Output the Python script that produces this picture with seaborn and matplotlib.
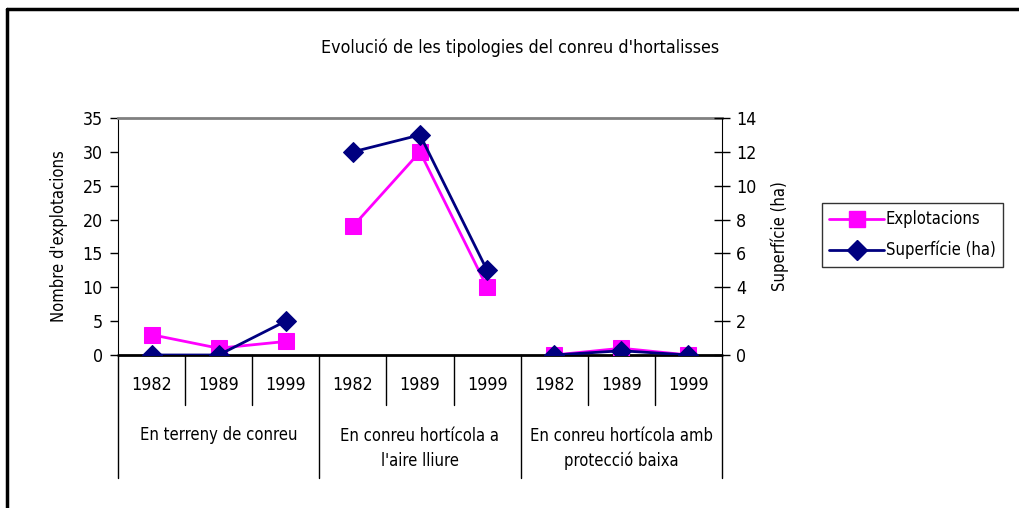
import pandas as pd
import matplotlib
matplotlib.use("Agg")
import matplotlib.pyplot as plt
import matplotlib.font_manager as fm
from matplotlib.lines import Line2D
import seaborn as sns

# --- data ---
groups = ["En terreny de conreu",
          "En conreu hortícola a\nl'aire lliure",
          "En conreu hortícola amb\nprotecció baixa"]
years = ["1982", "1989", "1999"]
explotacions = [3, 1, 2, 19, 30, 10, 0, 1, 0]
superficie = [0, 0, 2, 12, 13, 5, 0, 0.25, 0]

magenta = "#FF00FF"
navy = "#000080"

sns.set_style("white")

# the original uses a narrow Arial; take a condensed face if one is installed
fnames = {f.fname.split("/")[-1].lower(): f for f in fm.fontManager.ttflist}
pick = None
for key in ["liberationsansnarrow-regular.ttf", "dejavusanscondensed.ttf",
            "robotocondensed-regular.ttf", "opensans_condensed-regular.ttf"]:
    if key in fnames:
        pick = fnames[key]
        break
if pick is not None:
    plt.rcParams["font.family"] = [pick.name, "DejaVu Sans"]
    plt.rcParams["font.stretch"] = pick.stretch
    scale = 0.85
else:
    plt.rcParams["font.family"] = ["Liberation Sans", "DejaVu Sans"]
    scale = 0.85
plt.rcParams["text.color"] = "black"
plt.rcParams["axes.labelcolor"] = "black"
plt.rcParams["ytick.color"] = "black"

fs = 14 * scale
fs_tick = 15 * scale

# long table: one row per (group, year)
df = pd.DataFrame({
    "pos": range(len(groups) * len(years)),
    "group": [g for g in groups for _ in years],
    "year": years * len(groups),
    "Explotacions": explotacions,
    "Superficie": superficie,
})

fig = plt.figure(figsize=(10.19, 5.08), dpi=100)
ax = fig.add_axes([118 / 1019, 1 - 355 / 508, (722 - 118) / 1019, (355 - 118) / 508])
ax2 = ax.twinx()

sns.lineplot(data=df, x="pos", y="Explotacions", units="group", estimator=None,
             color=magenta, lw=2, marker="s", ms=12, mec=magenta, ax=ax, zorder=3)
sns.lineplot(data=df, x="pos", y="Superficie", units="group", estimator=None,
             color=navy, lw=2, marker="D", ms=10, mec=navy, ax=ax2, zorder=4)

ax.set_xlim(-0.5, len(df) - 0.5)
ax.set_ylim(0, 35)
ax2.set_ylim(0, 14)
ax.set_yticks(range(0, 36, 5))
ax2.set_yticks(range(0, 15, 2))
ax.set_xticks([])
ax.set_xlabel("")
ax2.set_xlabel("")

ax.set_ylabel("Nombre d'explotacions", fontsize=fs, labelpad=10)
ax2.set_ylabel("Superfície (ha)", fontsize=fs, labelpad=10)

ax.tick_params(axis="y", direction="out", length=6, width=1, left=True, labelsize=fs_tick, pad=5)
ax2.tick_params(axis="y", direction="inout", length=12, width=1, right=True, labelsize=fs_tick, pad=4)

for a in (ax, ax2):
    for s in a.spines.values():
        s.set_visible(False)
ax.spines["left"].set_visible(True)
ax.spines["left"].set_color("black")
ax.spines["top"].set_visible(True)
ax.spines["top"].set_color("#808080")
ax.spines["top"].set_linewidth(2)
ax2.spines["right"].set_visible(True)
ax2.spines["right"].set_color("black")

# zero line
ax.axhline(0, color="black", lw=2, zorder=2, clip_on=False)

# category axis: year labels, group labels and separators
trans = ax.get_xaxis_transform()
for p, y in zip(df["pos"], df["year"]):
    ax.text(p, -0.127, y, ha="center", va="center", fontsize=fs_tick, transform=trans)
for i, g in enumerate(groups):
    yy = -0.338 if "\n" not in g else -0.395
    ax.text(i * 3 + 1, yy, g, ha="center", va="center", fontsize=fs,
            linespacing=1.5, transform=trans)
for i in range(len(df) + 1):
    x = i - 0.5
    bottom = -0.519 if i % 3 == 0 else -0.211
    ax.plot([x, x], [0, bottom], color="black", lw=1, transform=trans, clip_on=False)

handles = [
    Line2D([], [], color=magenta, lw=2, marker="s", ms=12, mec=magenta),
    Line2D([], [], color=navy, lw=2, marker="D", ms=10, mec=navy),
]
leg = fig.legend(handles, ["Explotacions", "Superfície (ha)"], loc="upper left",
                 bbox_to_anchor=(822 / 1019, 1 - 203 / 508), frameon=True, fancybox=False,
                 edgecolor="black", fontsize=fs, handlelength=3.3, handletextpad=0.1,
                 borderpad=0.45, labelspacing=0.75, borderaxespad=0)
leg.get_frame().set_linewidth(1)

fig.text(520 / 1019, 1 - 48 / 508, "Evolució de les tipologies del conreu d'hortalisses",
         ha="center", va="center", fontsize=15 * scale)

# outer frame (left and top edges)
fig.add_artist(Line2D([7 / 1019, 7 / 1019], [0, 1 - 9 / 508], color="black", lw=2.5,
                      transform=fig.transFigure))
fig.add_artist(Line2D([7 / 1019, 1], [1 - 9 / 508, 1 - 9 / 508], color="black", lw=2.5,
                      transform=fig.transFigure))

fig.savefig("out.png", dpi=100)
